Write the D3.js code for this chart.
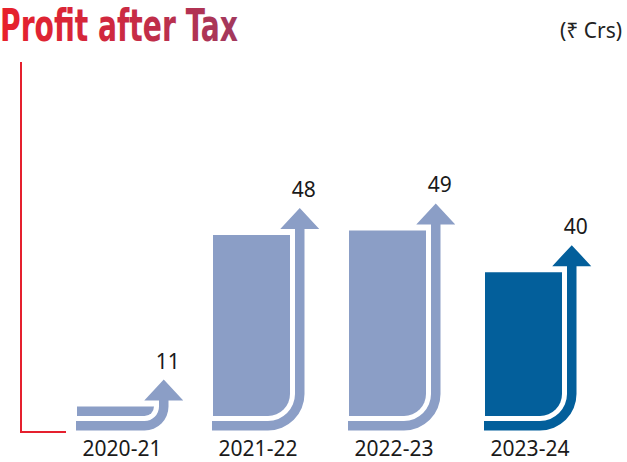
<!DOCTYPE html>
<html>
<head>
<meta charset="utf-8">
<script src="https://cdn.jsdelivr.net/npm/d3@7/dist/d3.min.js"></script>
<style>
  html, body { margin: 0; padding: 0; background: #ffffff; }
  svg { display: block; }
</style>
</head>
<body>
<script>
// ---- data ----
const title = "Profit after Tax";
const unitLabel = "(₹ Crs)";
const categories = ["2020-21", "2021-22", "2022-23", "2023-24"];
const values = [11, 48, 49, 40];

// ---- setup ----
const W = 627, H = 462;
const svg = d3.select("body").append("svg").attr("width", W).attr("height", H);

const defs = svg.append("defs");
const grad = defs.append("linearGradient").attr("id", "titleGrad")
  .attr("gradientUnits", "userSpaceOnUse").attr("x1", 0).attr("x2", 240).attr("y1", 0).attr("y2", 0);
grad.append("stop").attr("offset", "0%").attr("stop-color", "#e8202b");
grad.append("stop").attr("offset", "45%").attr("stop-color", "#d0283f");
grad.append("stop").attr("offset", "100%").attr("stop-color", "#a1395e");

// title
svg.append("text")
  .attr("x", 0).attr("y", 40.5)
  .attr("font-family", "'Liberation Sans Narrow', 'DejaVu Sans Condensed', 'Liberation Sans', sans-serif")
  .attr("font-weight", "bold")
  .attr("font-size", 44)
  .attr("textLength", 238)
  .attr("lengthAdjust", "spacingAndGlyphs")
  .attr("fill", "url(#titleGrad)")
  .text(title);

svg.append("text")
  .attr("x", 622).attr("y", 38)
  .attr("text-anchor", "end")
  .attr("font-family", "'Noto Sans', 'DejaVu Sans', sans-serif")
  .attr("font-size", 21)
  .attr("fill", "#222")
  .text(unitLabel);

// red axis
const axisColor = "#e5202e";
svg.append("path")
  .attr("d", "M21,62 L21,432 L66,432")
  .attr("fill", "none").attr("stroke", axisColor).attr("stroke-width", 2);

// scales
const x = d3.scalePoint().domain(categories).range([77, 485]);
const y = d3.scaleLinear().domain([0, 50]).range([457.5, 225.8]);

const rectW = 77, rectBottom = 416, gap = 5, shaftW = 9.5;
const bandTop = rectBottom + gap, bandBottom = bandTop + shaftW;
const headW = 39, headH = 21;
const light = "#8b9ec6", dark = "#035f9b";

const g = svg.append("g");
categories.forEach((c, i) => {
  const x0 = x(c);
  const yT = y(values[i]);
  const color = i === categories.length - 1 ? dark : light;
  const h = rectBottom - yT;
  const r = Math.min(22, h);
  const rx = x0 + rectW;
  // rect with rounded bottom-right corner
  const rectPath = `M${x0},${yT} L${rx},${yT} L${rx},${rectBottom - r} ` +
    `A${r},${r} 0 0 1 ${rx - r},${rectBottom} L${x0},${rectBottom} Z`;
  g.append("path").attr("d", rectPath).attr("fill", color);

  // L-shaped arrow
  const cx = rx - r, cy = rectBottom - r;
  const ri = r + gap, ro = ri + shaftW;
  const sL = cx + ri, sR = cx + ro, sC = (sL + sR) / 2;
  const base = Math.min(yT - 6, cy - 4);
  const tip = base - headH;
  const arrowPath =
    `M${x0 - 1},${bandTop} L${cx},${bandTop} ` +
    `A${ri},${ri} 0 0 0 ${sL},${cy} ` +
    `L${sL},${base} L${sC - headW / 2},${base} L${sC},${tip} L${sC + headW / 2},${base} L${sR},${base} ` +
    `L${sR},${cy} A${ro},${ro} 0 0 1 ${cx},${bandBottom} L${x0 - 1},${bandBottom} Z`;
  g.append("path").attr("d", arrowPath).attr("fill", color);

  // value label
  g.append("text")
    .attr("x", sC + 4).attr("y", tip - 11)
    .attr("text-anchor", "middle")
    .attr("font-family", "'Noto Sans', 'Liberation Sans', sans-serif")
    .attr("font-size", 21)
    .attr("fill", "#1a1a1a")
    .text(values[i]);

  // category label
  g.append("text")
    .attr("x", x0 + 45).attr("y", 456)
    .attr("text-anchor", "middle")
    .attr("font-family", "'Noto Sans', 'Liberation Sans', sans-serif")
    .attr("font-size", 21)
    .attr("fill", "#1a1a1a")
    .text(c);
});
</script>
</body>
</html>
